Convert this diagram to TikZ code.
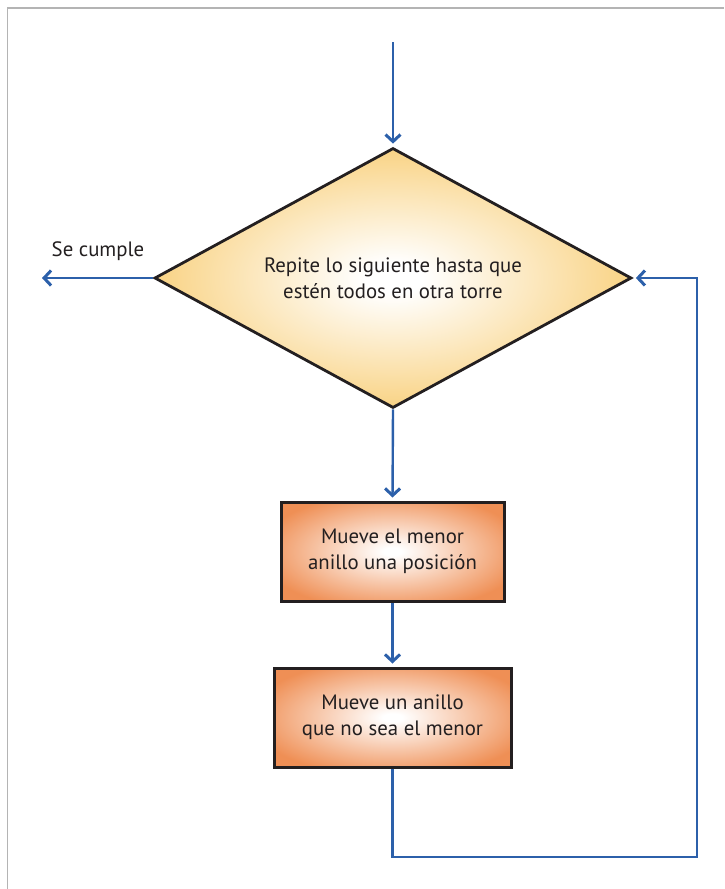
\documentclass[tikz,border=0pt]{standalone}
\usepackage{fontspec}
\setmainfont{PT Sans}
\usetikzlibrary{arrows.meta,shapes.geometric}

\definecolor{flowblue}{HTML}{2C60AA}
\definecolor{decfill}{HTML}{F8CD74}
\definecolor{boxfill}{HTML}{EF8F55}
\definecolor{edgeink}{HTML}{231F20}
\definecolor{framegray}{HTML}{B4B4B4}

% light centre fading out to the fill colour towards the border
\pgfdeclareradialshading{decshade}{\pgfpoint{0bp}{0bp}}{color(0bp)=(white); color(3bp)=(white); color(28bp)=(decfill); color(50bp)=(decfill)}
\pgfdeclareradialshading{boxshade}{\pgfpoint{0bp}{0bp}}{color(0bp)=(white); color(2bp)=(white); color(30bp)=(boxfill); color(50bp)=(boxfill)}

\tikzset{
  flowtext/.style={font=\fontsize{20.8}{26}\selectfont, text=edgeink, align=center},
  decision/.style={diamond, aspect=1.83, minimum width=477pt, minimum height=260pt,
    inner sep=0pt, draw=edgeink, line width=2.8pt, shading=decshade, flowtext},
  action/.style={rectangle, inner sep=0pt, draw=edgeink, line width=3pt,
    shading=boxshade, flowtext},
  flow/.style={draw=flowblue, line width=2.4pt,
    -{Straight Barb[length=7pt,width=15pt,line width=3pt]}, shorten >=3pt},
}

\begin{document}
\begin{tikzpicture}[x=1pt,y=-1pt]
  \useasboundingbox (0,0) rectangle (724,889);

  % page frame
  \draw[framegray, line width=1.5pt] (7.5,889) -- (7.5,8) -- (724,8);

  % nodes
  \node[decision] (dec) at (393,278) {Repite lo siguiente hasta que\\estén todos en otra torre};
  \node[action, minimum width=223pt, minimum height=99pt] (b1) at (392.5,551.5) {Mueve el menor\\anillo una posición};
  \node[action, minimum width=237pt, minimum height=99pt] (b2) at (392.5,717.5) {Mueve un anillo\\que no sea el menor};

  % free ends of connectors
  \coordinate (entry) at (393,42);
  \coordinate (exit) at (42,278);
  \coordinate (loopcorner) at (697,857);

  \node[flowtext, anchor=base] (yes) at (98,256) {Se cumple};

  % connectors
  \draw[flow] (entry) -- (dec.north);
  \draw[flow, shorten >=0pt] (dec.west) -- (exit);
  \draw[flow] (dec.south) -- (b1.north);
  \draw[flow] (b1.south) -- (b2.north);
  \draw[flow] (b2.south) |- (loopcorner) |- (dec.east);
\end{tikzpicture}
\end{document}
